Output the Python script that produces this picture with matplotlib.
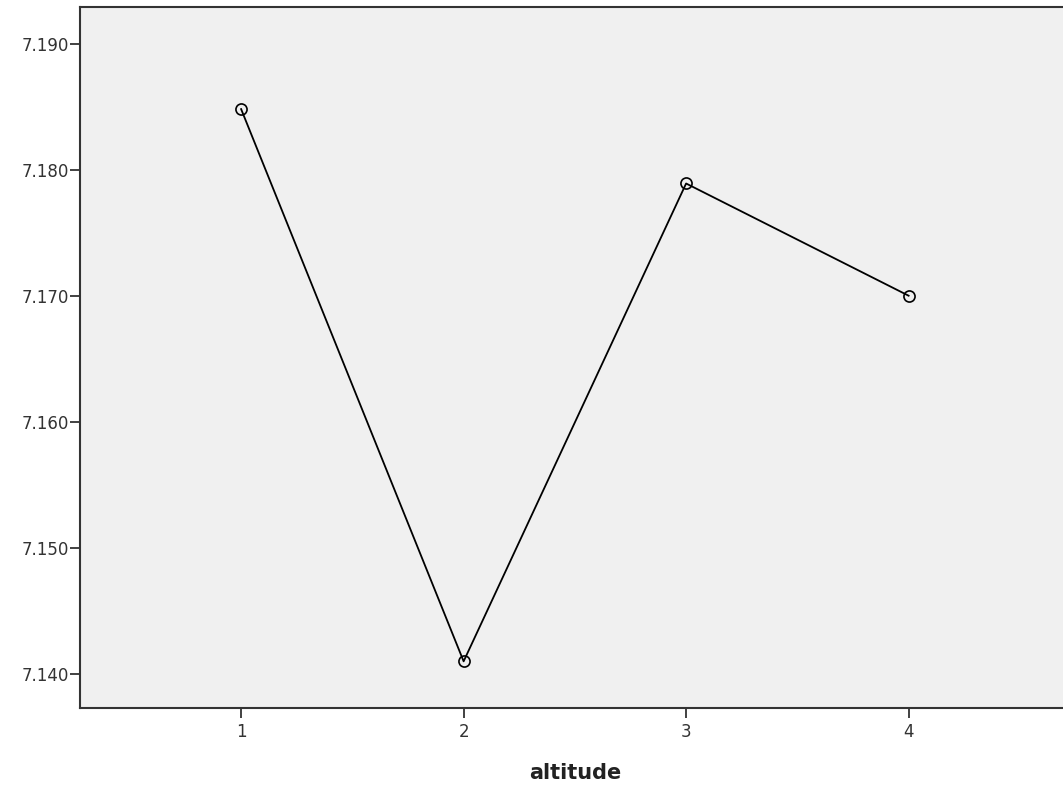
import matplotlib
matplotlib.use("Agg")
import matplotlib.pyplot as plt

# 資料
altitude = [1, 2, 3, 4]
means = [7.1848, 7.1410, 7.1789, 7.1700]
yticks = [7.140, 7.150, 7.160, 7.170, 7.180, 7.190]

fig = plt.figure(figsize=(10.63, 7.93), dpi=100)
ax = fig.add_axes([0.0753, 0.1072, 0.931, 0.884])
ax.set_facecolor('#f0f0f0')

ax.plot(altitude, means, color='black', linewidth=1.3, marker='o', markersize=8,
        markerfacecolor='none', markeredgecolor='black', markeredgewidth=1.2)

ax.set_xlim(0.276, 4.724)
ax.set_ylim(7.1373, 7.1929)
ax.set_xticks(altitude)
ax.set_yticks(yticks)
ax.set_yticklabels([f"{v:.3f}" for v in yticks])
ax.tick_params(axis='both', labelsize=12, length=7, width=1.3, color='#333333',
               labelcolor='#333333', direction='out')
ax.tick_params(axis='y', pad=1)
ax.tick_params(axis='x', pad=4)

for s in ax.spines.values():
    s.set_color('#333333')
    s.set_linewidth(1.5)

ax.set_xlabel('altitude', fontsize=15, fontweight='bold', color='#222222', labelpad=16)

fig.savefig('out.png', dpi=100)
